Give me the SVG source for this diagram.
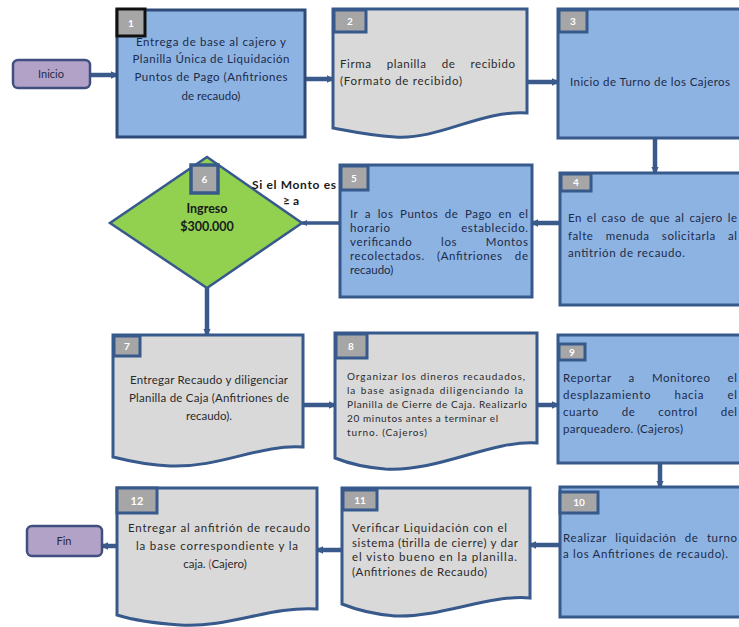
<svg xmlns="http://www.w3.org/2000/svg" width="739" height="627" viewBox="0 0 739 627">
<defs>
<style>
.bb{fill:#8db3e2;stroke:#37598c;stroke-width:3}
.gd{fill:#d9d9d9;stroke:#37598c;stroke-width:3}
.term{fill:#b3a2c7;stroke:#3f4f7f;stroke-width:2.5}
.badge{fill:#a6a6a6;stroke:#37598c;stroke-width:3}
.bn{font-family:Lato,"Open Sans",sans-serif;font-size:10px;font-weight:bold;fill:#ffffff;text-anchor:middle}
.t{font-family:Lato,"Open Sans",sans-serif;font-size:11.5px;fill:#1c2b4a}
.tg{font-family:Lato,"Open Sans",sans-serif;font-size:11.5px;fill:#2a2a2a}
.c{text-anchor:middle}
.lbl{font-family:Lato,"Open Sans",sans-serif;font-size:12px;font-weight:bold;fill:#1a1a1a}
.con{fill:none;stroke:#3a5a8c;stroke-width:4.5;marker-end:url(#ah)}
</style>
<marker id="ah" viewBox="0 0 6 6" refX="5" refY="3" markerWidth="1.7" markerHeight="1.7" orient="auto" markerUnits="strokeWidth">
<path d="M0,0 L6,3 L0,6 Z" fill="#3a5a8c"/>
</marker>
</defs>
<rect width="739" height="627" fill="#ffffff"/>

<g id="connectors">
<line class="con" x1="90" y1="75" x2="117" y2="75"/>
<line class="con" x1="305" y1="79" x2="333" y2="79"/>
<line class="con" x1="527" y1="82" x2="558" y2="82"/>
<line class="con" x1="655" y1="138" x2="655" y2="173"/>
<line class="con" x1="560" y1="223" x2="532" y2="223"/>
<line class="con" x1="340" y1="223" x2="302" y2="223" style="stroke-width:3.5"/>
<line class="con" x1="207" y1="288" x2="207" y2="335"/>
<line class="con" x1="303" y1="405" x2="335" y2="405"/>
<line class="con" x1="537" y1="405" x2="558" y2="405"/>
<line class="con" x1="660" y1="463" x2="660" y2="487"/>
<line class="con" x1="560" y1="545" x2="530" y2="545"/>
<line class="con" x1="342" y1="550" x2="317" y2="550"/>
<line class="con" x1="117" y1="546" x2="102" y2="546"/>
</g>

<g id="inicio">
<rect class="term" x="13" y="60" width="77" height="28" rx="5"/>
<text class="t c" x="51" y="78" style="font-size:11px">Inicio</text>
</g>

<g id="n1">
<rect class="bb" x="117" y="10" width="188" height="127" style="stroke:#2e4a78"/>
<rect class="badge" x="117" y="9" width="28" height="27" style="stroke:#111111"/>
<text class="bn" x="131" y="27">1</text>
<text class="t c" x="211" y="46" textLength="150">Entrega de base al cajero y</text>
<text class="t c" x="211" y="63" textLength="157">Planilla Única de Liquidación</text>
<text class="t c" x="211" y="81" textLength="153">Puntos de Pago (Anfitriones</text>
<text class="t c" x="211" y="100">de recaudo)</text>
</g>

<g id="n2">
<path class="gd" d="M333,9 H527 V113 C480,110 440,140 395,137 C365,135 345,130 333,128 Z"/>
<rect class="badge" x="334" y="10" width="32" height="22"/>
<text class="bn" x="350" y="25">2</text>
<text class="tg" x="340" y="68" style="word-spacing:11.7px" textLength="175" lengthAdjust="spacing">Firma planilla de recibido</text>
<text class="tg" x="340" y="85" textLength="122">(Formato de recibido)</text>
</g>

<g id="n3">
<rect class="bb" x="558" y="9" width="190" height="129"/>
<rect class="badge" x="559" y="10" width="28" height="22"/>
<text class="bn" x="573" y="25">3</text>
<text class="t" x="570" y="86" textLength="160">Inicio de Turno de los Cajeros</text>
</g>

<g id="n4">
<rect class="bb" x="560" y="173" width="190" height="132"/>
<rect class="badge" x="561" y="174" width="30" height="17"/>
<text class="bn" x="576" y="186">4</text>
<text class="t" x="568" y="222" style="word-spacing:1.6px" textLength="169" lengthAdjust="spacing">En el caso de que al cajero le</text>
<text class="t" x="568" y="240" style="word-spacing:8.7px" textLength="169" lengthAdjust="spacing">falte menuda solicitarla al</text>
<text class="t" x="568" y="257" textLength="117">antitrión de recaudo.</text>
</g>

<g id="n5">
<rect class="bb" x="340" y="165" width="192" height="132"/>
<rect class="badge" x="341" y="166" width="27" height="24"/>
<text class="bn" x="354" y="182">5</text>
<text class="t" x="350" y="218" style="word-spacing:3.3px" textLength="178" lengthAdjust="spacing">Ir a los Puntos de Pago en el</text>
<text class="t" x="350" y="232" style="word-spacing:67px" textLength="178" lengthAdjust="spacing">horario establecido.</text>
<text class="t" x="350" y="246" style="word-spacing:25px" textLength="178" lengthAdjust="spacing">verificando los Montos</text>
<text class="t" x="350" y="260" style="word-spacing:8.7px" textLength="178" lengthAdjust="spacing">recolectados. (Anfitriones de</text>
<text class="t" x="350" y="274">recaudo)</text>
</g>

<g id="n6">
<polygon points="207,157 302,223 207,288 110,223" fill="#92d050" stroke="#37598c" stroke-width="2.5"/>
<rect class="badge" x="191" y="165" width="27" height="28" style="stroke-width:3.5"/>
<text class="bn" x="204.5" y="183">6</text>
<text class="lbl c" x="207" y="213" style="font-size:12.5px">Ingreso</text>
<text class="lbl c" x="207" y="231" style="font-size:12.5px">$300.000</text>
<text class="lbl" x="252" y="189" textLength="84">Si el Monto es</text>
<text class="lbl c" x="291" y="205">≥ a</text>
</g>

<g id="n7">
<path class="gd" d="M113,335 H303 V447 C260,444 220,468 170,466 C145,465 125,460 113,457 Z"/>
<rect class="badge" x="114" y="336" width="26" height="20"/>
<text class="bn" x="127" y="350">7</text>
<text class="tg c" x="209" y="384" textLength="158">Entregar Recaudo y diligenciar</text>
<text class="tg c" x="209" y="402" textLength="160">Planilla de Caja (Anfitriones de</text>
<text class="tg c" x="209" y="420">recaudo).</text>
</g>

<g id="n8">
<path class="gd" d="M335,333 H537 V443 C490,440 440,472 385,469 C360,467 345,462 335,458 Z"/>
<rect class="badge" x="336" y="334" width="31" height="24"/>
<text class="bn" x="351" y="350">8</text>
<text class="tg" x="347" y="380" style="font-size:10px" textLength="178">Organizar los dineros recaudados,</text>
<text class="tg" x="347" y="394" style="font-size:10px;word-spacing:1px" textLength="176">la base asignada diligenciando la</text>
<text class="tg" x="347" y="408" style="font-size:10px" textLength="180">Planilla de Cierre de Caja. Realizarlo</text>
<text class="tg" x="347" y="422" style="font-size:10px" textLength="151">20 minutos antes a terminar el</text>
<text class="tg" x="347" y="436" style="font-size:10px" textLength="80">turno. (Cajeros)</text>
</g>

<g id="n9">
<rect class="bb" x="558" y="335" width="190" height="128"/>
<rect class="badge" x="559" y="344" width="26" height="16"/>
<text class="bn" x="572" y="356">9</text>
<text class="t" x="563" y="382" style="word-spacing:13.4px" textLength="174" lengthAdjust="spacing">Reportar a Monitoreo el</text>
<text class="t" x="563" y="399" style="word-spacing:19.8px" textLength="174" lengthAdjust="spacing">desplazamiento hacia el</text>
<text class="t" x="563" y="416" style="word-spacing:19.4px" textLength="174" lengthAdjust="spacing">cuarto de control del</text>
<text class="t" x="563" y="433" textLength="120">parqueadero. (Cajeros)</text>
</g>

<g id="n10">
<rect class="bb" x="560" y="487" width="190" height="130"/>
<rect class="badge" x="560" y="492" width="38" height="21"/>
<text class="bn" x="579" y="506">10</text>
<text class="t" x="563" y="542" style="word-spacing:4.8px" textLength="174" lengthAdjust="spacing">Realizar liquidación de turno</text>
<text class="t" x="563" y="558" textLength="165">a los Anfitriones de recaudo).</text>
</g>

<g id="n11">
<path class="gd" d="M342,488 H530 V598 C490,594 440,618 395,616 C370,614 352,608 342,604 Z"/>
<rect class="badge" x="343" y="490" width="34" height="20"/>
<text class="bn" x="360" y="504">11</text>
<text class="tg" x="352" y="532" textLength="155">Verificar Liquidación con el</text>
<text class="tg" x="352" y="547" textLength="166">sistema (tirilla de cierre) y dar</text>
<text class="tg" x="352" y="561" textLength="165">el visto bueno en la planilla.</text>
<text class="tg" x="352" y="576" textLength="135">(Anfitriones de Recaudo)</text>
</g>

<g id="n12">
<path class="gd" d="M117,488 H317 V609 C270,606 230,628 180,625 C150,623 130,619 117,615 Z"/>
<rect class="badge" x="117" y="488" width="40" height="25"/>
<text class="bn" x="137" y="505" style="font-size:11px">12</text>
<text class="tg c" x="219" y="532" textLength="182">Entregar al anfitrión de recaudo</text>
<text class="tg c" x="217" y="550" textLength="162">la base correspondiente y la</text>
<text class="tg c" x="215" y="568">caja. <tspan fill="#c0504d">(</tspan>Cajero)</text>
</g>

<g id="fin">
<rect class="term" x="27" y="526" width="75" height="30" rx="5"/>
<text class="tg c" x="64" y="545" style="font-size:11px">Fin</text>
</g>
</svg>
